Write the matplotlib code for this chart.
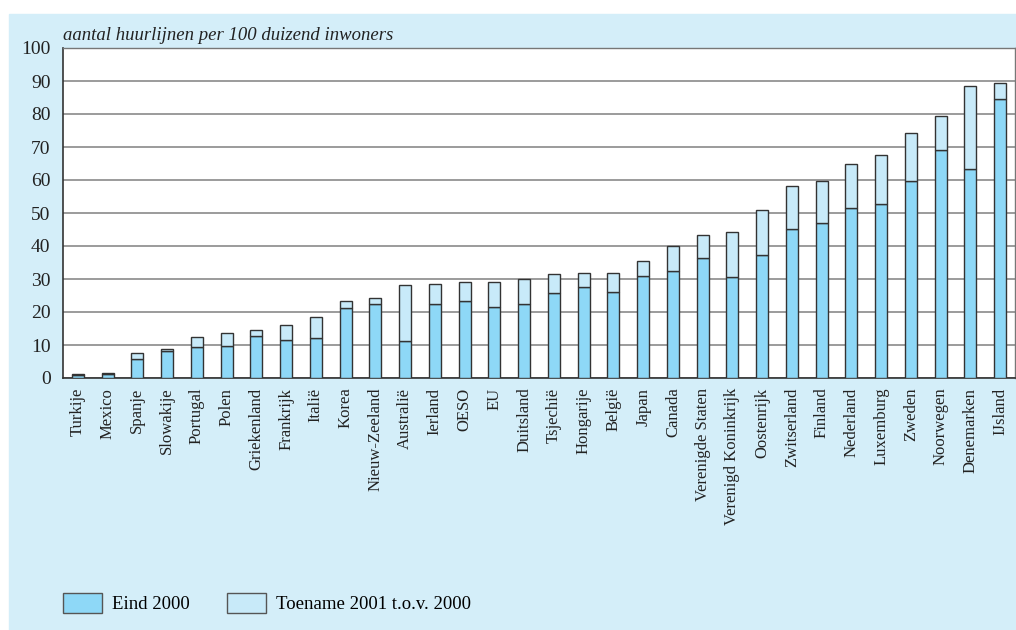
import matplotlib
matplotlib.use("Agg")
import matplotlib.pyplot as plt
from matplotlib.patches import Rectangle, Patch
import numpy as np

# aantal huurlijnen per 100 duizend inwoners
landen = ["Turkije", "Mexico", "Spanje", "Slowakije", "Portugal", "Polen",
          "Griekenland", "Frankrijk", "Italië", "Korea", "Nieuw-Zeeland",
          "Australië", "Ierland", "OESO", "EU", "Duitsland", "Tsjechië",
          "Hongarije", "België", "Japan", "Canada", "Verenigde Staten",
          "Verenigd Koninkrijk", "Oostenrijk", "Zwitserland", "Finland",
          "Nederland", "Luxemburg", "Zweden", "Noorwegen", "Denemarken",
          "IJsland"]
eind_2000 = [0.9, 1.1, 5.8, 8.3, 9.4, 9.6, 12.6, 11.5, 12.0, 21.2, 22.4,
             11.2, 22.4, 23.3, 21.6, 22.5, 25.7, 27.6, 26.0, 30.8, 32.3,
             36.4, 30.5, 37.2, 45.1, 47.0, 51.4, 52.6, 59.7, 69.2, 63.2, 84.5]
totaal_2001 = [1.3, 1.4, 7.7, 8.7, 12.3, 13.6, 14.6, 16.0, 18.6, 23.3, 24.1,
               28.3, 28.4, 29.2, 29.2, 30.0, 31.4, 31.7, 31.9, 35.6, 40.1,
               43.3, 44.2, 50.9, 58.3, 59.6, 64.8, 67.7, 74.1, 79.5, 88.5, 89.5]
toename = [t - e for t, e in zip(totaal_2001, eind_2000)]

kleur_basis = "#8ed8f7"
kleur_toename = "#c8eaf9"
kleur_paneel = "#d4eef9"

plt.rcParams["font.family"] = ["Liberation Serif", "DejaVu Serif"]

fig = plt.figure(figsize=(10.16, 6.30), dpi=100)
fig.patches.append(Rectangle((9 / 1016, 0), 1, 616 / 630,
                             transform=fig.transFigure, color=kleur_paneel,
                             zorder=-10))

ax = fig.add_axes([63 / 1016, 252 / 630, 952 / 1016, 330 / 630])
x = np.arange(len(landen))
ax.bar(x, eind_2000, width=0.4, color=kleur_basis, edgecolor="#333333",
       linewidth=1, zorder=3)
ax.bar(x, toename, width=0.4, bottom=eind_2000, color=kleur_toename,
       edgecolor="#333333", linewidth=1, zorder=3)

ax.set_xlim(-0.5, len(landen) - 0.5)
ax.set_ylim(0, 100)
ax.set_yticks(range(0, 101, 10))
ax.tick_params(axis="y", length=0, pad=9, labelsize=14, colors="#222222")
ax.set_xticks(x)
ax.set_xticklabels(landen, rotation=90, fontsize=12, color="#222222")
ax.tick_params(axis="x", length=0, pad=7)
ax.grid(axis="y", color="#8a8a8a", linewidth=1.2, zorder=0)
for s in ["top", "right"]:
    ax.spines[s].set_color("#777777")
    ax.spines[s].set_linewidth(1.0)
for s in ["left", "bottom"]:
    ax.spines[s].set_color("#333333")
    ax.spines[s].set_linewidth(1.2)

fig.text(63 / 1016, 1 - 36 / 630, "aantal huurlijnen per 100 duizend inwoners",
         fontsize=13.5, style="italic", va="center", ha="left", color="#222222")

handles = [Patch(facecolor=kleur_basis, edgecolor="#555555", linewidth=1),
           Patch(facecolor=kleur_toename, edgecolor="#555555", linewidth=1)]
fig.legend(handles, ["Eind 2000", "Toename 2001 t.o.v. 2000"], ncol=2,
           loc="center left", bbox_to_anchor=(46 / 1016, 1 - 603 / 630),
           frameon=False, fontsize=13.5, handlelength=2.1, handleheight=1.3,
           handletextpad=0.5, columnspacing=2.0)

fig.savefig("out.png", dpi=100)
